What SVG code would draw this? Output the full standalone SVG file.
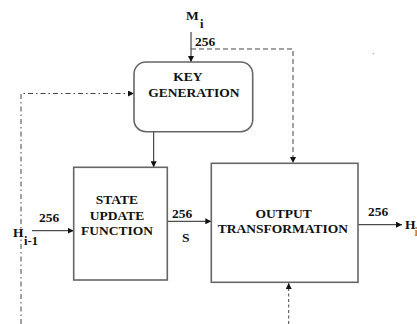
<svg xmlns="http://www.w3.org/2000/svg" width="417" height="324" viewBox="0 0 417 324">
  <style>
    .box { fill: #ffffff; stroke: #666666; stroke-width: 1.6; }
    .lbl { font-family: "Liberation Serif", "Times New Roman", serif; font-weight: bold; font-size: 13.5px; fill: #111111; }
    .sub { font-family: "Liberation Serif", "Times New Roman", serif; font-weight: bold; font-size: 12.5px; fill: #111111; }
    .wire { fill: none; stroke: #222222; stroke-width: 1; }
    .dash { fill: none; stroke: #444444; stroke-width: 1; stroke-dasharray: 5 3; }
    .dashdot { fill: none; stroke: #444444; stroke-width: 1; stroke-dasharray: 5 3 1.5 3; }
    .dot { fill: none; stroke: #444444; stroke-width: 1; stroke-dasharray: 3 2.5; }
  </style>
  <defs>
    <marker id="arrow" viewBox="0 0 10 10" refX="10" refY="5" markerWidth="6" markerHeight="6" orient="auto" markerUnits="userSpaceOnUse">
      <path d="M0,0 L10,5 L0,10 z" fill="#111111"/>
    </marker>
  </defs>

  <rect width="417" height="324" fill="#ffffff"/>

  <!-- connectors -->
  <g id="connectors">
    <!-- M_i into key generation -->
    <line class="wire" x1="191" y1="32" x2="191" y2="62" marker-end="url(#arrow)"/>
    <!-- M_i branch to output transformation -->
    <polyline class="dash" points="191,49 293,49 293,163" marker-end="url(#arrow)"/>
    <!-- feedback into key generation -->
    <polyline class="dashdot" points="21,324 21,93.5 134,93.5" marker-end="url(#arrow)"/>
    <!-- key generation to state update -->
    <line class="wire" x1="153.7" y1="132" x2="153.7" y2="167.3" marker-end="url(#arrow)"/>
    <!-- H_{i-1} into state update -->
    <line class="wire" x1="32" y1="230.7" x2="73.7" y2="230.7" marker-end="url(#arrow)"/>
    <!-- S into output transformation -->
    <line class="wire" x1="167.3" y1="221.3" x2="211.3" y2="221.3" marker-end="url(#arrow)"/>
    <!-- output H_i -->
    <line class="wire" x1="358" y1="224.7" x2="402" y2="224.7" marker-end="url(#arrow)"/>
    <!-- input from below -->
    <line class="dot" x1="288.7" y1="324" x2="288.7" y2="283" marker-end="url(#arrow)"/>
  </g>

  <!-- key generation -->
  <g id="key-generation">
    <rect class="box" x="134" y="62" width="118.7" height="69.7" rx="12" ry="12"/>
    <text class="lbl" x="188" y="81" text-anchor="middle">KEY</text>
    <text class="lbl" x="194" y="97" text-anchor="middle">GENERATION</text>
  </g>

  <!-- state update function -->
  <g id="state-update">
    <rect class="box" x="73.7" y="167.3" width="93.6" height="112.7"/>
    <text class="lbl" x="117" y="204.3" text-anchor="middle">STATE</text>
    <text class="lbl" x="117" y="220" text-anchor="middle">UPDATE</text>
    <text class="lbl" x="117" y="235.3" text-anchor="middle">FUNCTION</text>
  </g>

  <!-- output transformation -->
  <g id="output-transformation">
    <rect class="box" x="211.3" y="163.3" width="146.7" height="119"/>
    <text class="lbl" x="283.7" y="217.7" text-anchor="middle">OUTPUT</text>
    <text class="lbl" x="283" y="233.3" text-anchor="middle">TRANSFORMATION</text>
  </g>

  <!-- labels -->
  <g id="labels">
    <text class="lbl" x="186" y="20">M</text>
    <text class="sub" x="200" y="27.5">i</text>
    <text class="lbl" x="195" y="46">256</text>

    <text class="lbl" x="39" y="222">256</text>
    <text class="lbl" x="13" y="237.3">H</text>
    <text class="sub" x="24" y="244.7">i-1</text>

    <text class="lbl" x="172" y="217.7">256</text>
    <text class="lbl" x="182" y="242.3">S</text>

    <text class="lbl" x="368" y="216">256</text>
    <text class="lbl" x="405" y="228.5">H</text>
    <text class="sub" x="414.5" y="236" fill="#d08020" style="fill:#d08020">i</text>
  </g>

  <circle cx="373.5" cy="53.5" r="0.6" fill="#999999"/>
</svg>
